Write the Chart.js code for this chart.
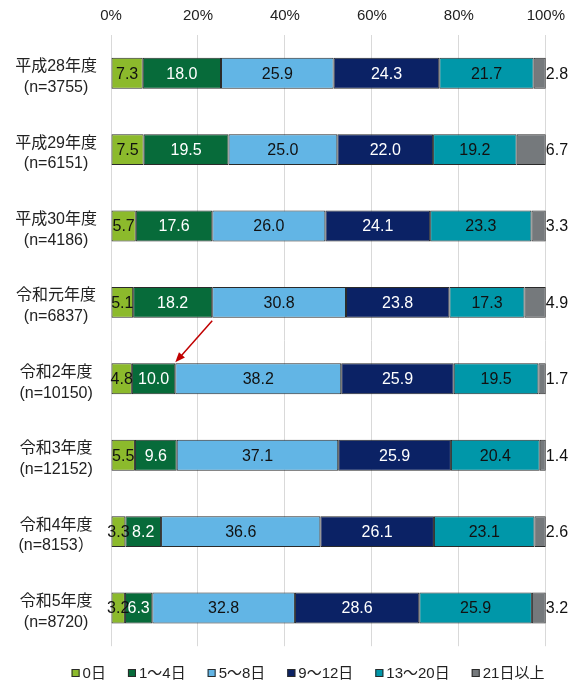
<!DOCTYPE html>
<html><head><meta charset="utf-8">
<script src="https://cdn.jsdelivr.net/npm/chart.js@4/dist/chart.umd.min.js"></script>
<style>html,body{margin:0;padding:0;background:#fff}#wrap{width:575px;height:681px;position:relative}</style>
</head><body><div id="wrap"><canvas id="c" width="575" height="681"></canvas></div>
<script>
// ---- data ----
const categories = [
  ['平成28年度','(n=3755)'],
  ['平成29年度','(n=6151)'],
  ['平成30年度','(n=4186)'],
  ['令和元年度','(n=6837)'],
  ['令和2年度','(n=10150)'],
  ['令和3年度','(n=12152)'],
  ['令和4年度','(n=8153）'],
  ['令和5年度','(n=8720)']
];
const seriesNames = ['0日','1～4日','5～8日','9～12日','13～20日','21日以上'];
const days0     = [7.3, 7.5, 5.7, 5.1, 4.8, 5.5, 3.3, 3.2];
const days1to4  = [18.0, 19.5, 17.6, 18.2, 10.0, 9.6, 8.2, 6.3];
const days5to8  = [25.9, 25.0, 26.0, 30.8, 38.2, 37.1, 36.6, 32.8];
const days9to12 = [24.3, 22.0, 24.1, 23.8, 25.9, 25.9, 26.1, 28.6];
const days13to20= [21.7, 19.2, 23.3, 17.3, 19.5, 20.4, 23.1, 25.9];
const days21up  = [2.8, 6.7, 3.3, 4.9, 1.7, 1.4, 2.6, 3.2];
const xTickValues = [0, 20, 40, 60, 80, 100];
const xTickLabels = ['0%','20%','40%','60%','80%','100%'];

// ---- styles ----
const FONT = '"Liberation Sans", Arial, "Noto Sans CJK JP", sans-serif';
const fills = ['#8cba2c','#076b3a','#62b5e5','#0b2265','#0097a9','#75797c'];
const labelColors = ['#111','#fff','#111','#fff','#111','#111'];
const allSeries = [days0, days1to4, days5to8, days9to12, days13to20, days21up];
const rowSums = categories.map((_, i) => allSeries.reduce((s, a) => s + a[i], 0));

const datasets = allSeries.map((vals, k) => ({
  label: seriesNames[k],
  data: vals.map((v, i) => v / rowSums[i] * 100),
  raw: vals,
  backgroundColor: fills[k],
  borderColor: '#2a2a2a',
  borderWidth: 1,
  borderSkipped: false,
  categoryPercentage: 0.404,
  barPercentage: 1,
  labelColor: labelColors[k]
}));

const valueLabels = {
  id: 'valueLabels',
  afterDatasetsDraw(chart) {
    const ctx = chart.ctx;
    ctx.save();
    ctx.font = '16px ' + FONT;
    ctx.textBaseline = 'middle';
    const n = chart.data.datasets.length;
    chart.data.datasets.forEach((ds, di) => {
      chart.getDatasetMeta(di).data.forEach((bar, i) => {
        const txt = ds.raw[i].toFixed(1);
        ctx.fillStyle = ds.labelColor;
        if (di === n - 1) {
          ctx.textAlign = 'left';
          ctx.fillText(txt, bar.x, bar.y + 1);
        } else {
          ctx.textAlign = 'center';
          ctx.fillText(txt, (bar.x + bar.base) / 2, bar.y + 1);
        }
      });
    });
    // arrow from 令和元年度 boundary to 令和2年度 boundary (1～4日 end)
    const m = chart.getDatasetMeta(1).data;
    const a = m[3], b = m[4];
    const x1 = a.x, y1 = a.y + a.height / 2 + 3;
    const x2 = b.x, y2 = b.y - b.height / 2 - 1;
    const ang = Math.atan2(y2 - y1, x2 - x1);
    const L = 10, W = 4;
    ctx.strokeStyle = '#c00000';
    ctx.fillStyle = '#c00000';
    ctx.lineWidth = 1.5;
    ctx.beginPath();
    ctx.moveTo(x1, y1);
    ctx.lineTo(x2 - Math.cos(ang) * L * 0.8, y2 - Math.sin(ang) * L * 0.8);
    ctx.stroke();
    ctx.beginPath();
    ctx.moveTo(x2, y2);
    ctx.lineTo(x2 - Math.cos(ang) * L - Math.sin(ang) * W, y2 - Math.sin(ang) * L + Math.cos(ang) * W);
    ctx.lineTo(x2 - Math.cos(ang) * L + Math.sin(ang) * W, y2 - Math.sin(ang) * L - Math.cos(ang) * W);
    ctx.closePath();
    ctx.fill();
    ctx.restore();
  }
};

const customLegend = {
  id: 'customLegend',
  afterDraw(chart) {
    const ctx = chart.ctx;
    ctx.save();
    ctx.font = '15px ' + FONT;
    ctx.textBaseline = 'middle';
    ctx.textAlign = 'left';
    const box = 8, gap = 3, spacing = 22;
    const items = chart.data.datasets.map(ds => ({ t: ds.label, c: ds.backgroundColor, w: ctx.measureText(ds.label).width }));
    const total = items.reduce((s, it) => s + box + gap + it.w, 0) + spacing * (items.length - 1);
    const centerX = 308, cy = 673;
    let x = centerX - total / 2;
    items.forEach(it => {
      ctx.fillStyle = it.c;
      ctx.fillRect(x, cy - box / 2, box, box);
      ctx.strokeStyle = '#2a2a2a';
      ctx.lineWidth = 1;
      ctx.strokeRect(x + 0.5, cy - box / 2 + 0.5, box - 1, box - 1);
      ctx.fillStyle = '#222';
      ctx.fillText(it.t, x + box + gap, cy + 1);
      x += box + gap + it.w + spacing;
    });
    ctx.restore();
  }
};

new Chart(document.getElementById('c'), {
  type: 'bar',
  data: { labels: categories, datasets },
  options: {
    indexAxis: 'y',
    responsive: false,
    animation: false,
    devicePixelRatio: 1,
    layout: { padding: { left: 0, right: 29, top: 0, bottom: 32 } },
    plugins: { legend: { display: false }, tooltip: { enabled: false } },
    scales: {
      x: {
        position: 'top',
        stacked: true,
        min: 0, max: 100,
        afterBuildTicks(s) { s.ticks = xTickValues.map(v => ({ value: v })); },
        ticks: {
          callback: (v) => xTickLabels[xTickValues.indexOf(v)],
          font: { size: 15, family: FONT },
          color: '#222',
          padding: 10,
          maxRotation: 0
        },
        grid: { color: '#d9d9d9', drawTicks: false, lineWidth: 1 },
        border: { display: false },
        afterFit(s) { s.height = 35; }
      },
      y: {
        stacked: true,
        grid: { display: false, drawTicks: false },
        border: { display: false },
        ticks: {
          font: { size: 16, family: FONT, lineHeight: 1.3 },
          color: '#222',
          crossAlign: 'center',
          padding: 14,
          labelOffset: 4
        },
        afterFit(s) { s.width = 111; }
      }
    }
  },
  plugins: [valueLabels, customLegend]
});
</script>
</body></html>
